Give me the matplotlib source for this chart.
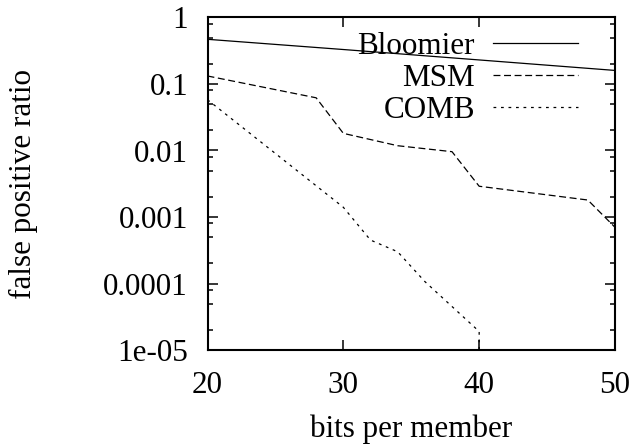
import matplotlib
matplotlib.use('Agg')
import matplotlib.pyplot as plt
from matplotlib.ticker import FixedLocator, NullLocator

# data (false positive ratio vs bits per member)
bloomier_x = [20, 30, 40, 50]
bloomier_y = [0.47, 0.33, 0.23, 0.16]

msm_x = [20, 28, 30, 34, 38, 40, 48, 50]
msm_y = [0.132, 0.062, 0.0181, 0.0118, 0.0096, 0.0029, 0.0018, 0.0007]

# last point drops below the axis range (gets clipped)
comb_x = [20, 30, 32, 34, 36, 40, 40]
comb_y = [0.058, 0.0014, 0.00045, 0.0003, 0.000107, 1.9e-5, 1e-9]

series_names = ['Bloomier', 'MSM', 'COMB']
x_ticks = [20, 30, 40, 50]
y_ticks = [1e-5, 1e-4, 1e-3, 1e-2, 1e-1, 1]
y_ticklabels = ['1e-05', '0.0001', '0.001', '0.01', '0.1', '1']

plt.rcParams['font.family'] = ['Liberation Serif', 'DejaVu Serif']
plt.rcParams['font.size'] = 22.4
plt.rcParams['lines.scale_dashes'] = False

fig = plt.figure(figsize=(6.36, 4.48), dpi=100)
W, H = 636, 448
ax_l, ax_r, ax_t, ax_b = 207.5, 615, 17.5, 350
ax = fig.add_axes([ax_l / W, 1 - ax_b / H, (ax_r - ax_l) / W, (ax_b - ax_t) / H])

styles = ['-', (0, (5.0, 2.6)), (0, (2.0, 3.4))]

lines = []
for (xs, ys), ls in zip([(bloomier_x, bloomier_y), (msm_x, msm_y), (comb_x, comb_y)], styles):
    ln, = ax.plot(xs, ys, color='black', linewidth=0.9, linestyle=ls)
    lines.append(ln)

ax.set_yscale('log')
ax.set_xlim(20, 50)
ax.set_ylim(1e-5, 1)

ax.xaxis.set_major_locator(FixedLocator(x_ticks))
ax.xaxis.set_minor_locator(NullLocator())
ax.yaxis.set_major_locator(FixedLocator(y_ticks))
ax.set_yticklabels(y_ticklabels)
ax.yaxis.set_minor_locator(FixedLocator([m * 10.0 ** k for k in range(-5, 0) for m in (2, 5, 8)]))
ax.yaxis.set_minor_formatter(plt.NullFormatter())

ax.tick_params(which='both', direction='in', top=True, right=True, width=1.1, color='black')
ax.tick_params(which='major', length=7)
ax.tick_params(which='minor', length=3.8)
ax.tick_params(axis='y', pad=14)
ax.tick_params(axis='x', pad=15)
for sp in ax.spines.values():
    sp.set_linewidth(1.5)

# gnuplot-style key: right aligned text, sample line on the right
axw, axh = ax_r - ax_l, ax_b - ax_t
for i, (name, ls) in enumerate(zip(series_names, styles)):
    y_line = 42.7 + 32 * i
    ax.plot([(493 - ax_l) / axw, (578 - ax_l) / axw],
            [(ax_b - y_line) / axh] * 2,
            transform=ax.transAxes, color='black', linewidth=0.9,
            linestyle=ls, clip_on=False)
    ax.text((475 - ax_l) / axw, (ax_b - (y_line + 11.3)) / axh, name,
            transform=ax.transAxes, ha='right', va='baseline')

fig.text(23 / W, 1 - 183.5 / H, 'false positive ratio', rotation=90, ha='center', va='center')
fig.text(411 / W, 1 - 437 / H, 'bits per member', ha='center', va='baseline')

fig.savefig('out.png', dpi=100)
